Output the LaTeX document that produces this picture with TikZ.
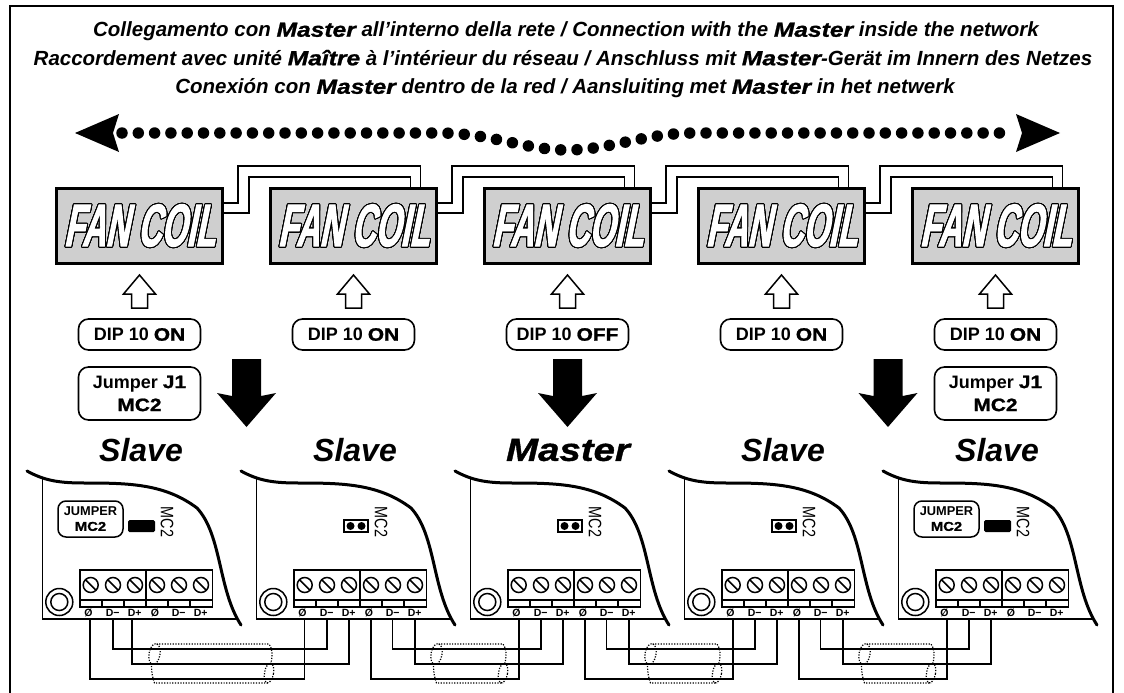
\documentclass[tikz,border=0pt]{standalone}
\usepackage{fontspec}
\usepackage{contour}
\setmainfont{Liberation Sans}
\newfontfamily\fanfont[FakeStretch=0.54,FakeSlant=0.2,FakeBold=1.6]{Liberation Sans Bold}
\newfontfamily\widefont[FakeStretch=1.16,FakeBold=1.2]{Liberation Sans Bold}
\newfontfamily\wideslant[FakeStretch=1.2,FakeBold=1.2]{Liberation Sans Bold Italic}
\newfontfamily\silkfont[FakeStretch=0.8]{Liberation Sans}
\usetikzlibrary{calc,positioning}
\contourlength{1pt}
\contournumber{32}
\tikzset{
  fancoil/.style={draw, line width=3.5pt, fill=gray!38, minimum width=166pt, minimum height=75pt, inner sep=0pt},
  tagbox/.style={draw, line width=1.6pt, rounded corners=10pt, fill=white, minimum width=122pt, align=center, font=\bfseries\fontsize{18}{23}\selectfont, inner sep=0pt},
  role/.style={font=\bfseries\itshape\fontsize{32}{32}\selectfont},
  titleline/.style={font=\bfseries\itshape\fontsize{20.5}{24}\selectfont, text height=16pt, text depth=4.5pt},
  wire/.style={line width=1.9pt},
  edgeline/.style={line width=1.5pt},
  buswire/.style={line width=1.4pt},
  cable/.style={line width=1.2pt, dash pattern=on 1.2pt off 1.5pt},
  openarrow/.style={draw, line width=1.5pt, fill=white},
  pinlabel/.style={font=\bfseries\fontsize{10.5}{11}\selectfont, inner sep=0pt}
}
\newcommand{\heavy}[1]{{\normalfont\wideslant #1}}
\newcommand{\heavyup}[1]{{\normalfont\widefont #1}}
\begin{document}
\begin{tikzpicture}[x=1pt,y=-1pt]
  \useasboundingbox (0,0) rectangle (1124,693);
  % Frame
  \draw[line width=2pt] (10,6) rectangle (1113,710);

  % Title
  \node[titleline] (title1) at (566,31) {Collegamento con \heavy{Master} all’interno della rete / Connection with the \heavy{Master} inside the network};
  \node[titleline] (title2) at (563,59.5) {Raccordement avec unité \heavy{Maître} à l’intérieur du réseau / Anschluss mit \heavy{Master}-Gerät im Innern des Netzes};
  \node[titleline] (title3) at (565,88) {Conexión con \heavy{Master} dentro de la red / Aansluiting met \heavy{Master} in het netwerk};

  % Network arrow
  \fill (75,133) -- (119,114) -- (113,133) -- (119,152) -- cycle;
  \fill (1060,133) -- (1016,114) -- (1022,133) -- (1016,152) -- cycle;
  \draw[line width=11.5pt, line cap=round, dash pattern=on 0pt off 16.3pt]
    (122,133) -- (440,133) .. controls (490,133) and (525,150) .. (567,150) .. controls (610,150) and (645,133) .. (695,133) -- (1012,133);

  % Fan coil row
  \foreach \i/\tag in {1/ON,2/ON,3/OFF,4/ON,5/ON} {
    \pgfmathsetmacro{\cx}{139.5+214*(\i-1)}
    \node[fancoil] (fc\i) at (\cx,226) {\fanfont\fontsize{60}{60}\selectfont\contour{black}{\textcolor{white}{FAN COIL}}};
    \draw[openarrow] (\cx,275) -- (\cx+16,294) -- (\cx+8,294) -- (\cx+8,308) -- (\cx-8,308) -- (\cx-8,294) -- (\cx-16,294) -- cycle;
    \node[tagbox, minimum height=31pt] (dip\i) at (\cx,334.5) {DIP 10 \heavyup{\tag}};
  }

  % Links between fan coils
  \foreach \i/\j in {1/2,2/3,3/4,4/5} {
    \draw[wire] ($(fc\i.east)+(0,-23)$) -- ++(14,0) |- ($(fc\j.north)+(67,-21)$) -- ($(fc\j.north)+(67,0)$);
    \draw[wire] ($(fc\i.east)+(0,-13)$) -- ++(25,0) |- ($(fc\j.north)+(57,-10)$) -- ($(fc\j.north)+(57,0)$);
  }

  % Jumper notes
  \node[tagbox, minimum height=53pt] (jump1) at (139.5,393.5) {Jumper \heavyup{J1}\\\heavyup{MC2}};
  \node[tagbox, minimum height=53pt] (jump5) at (995.5,393.5) {Jumper \heavyup{J1}\\\heavyup{MC2}};

  % Down arrows
  \foreach \x in {246.5,567.5,888} {
    \fill (\x-14.5,359) -- (\x+14.5,359) -- (\x+14.5,396) -- (\x+29.5,393) -- (\x,427) -- (\x-29.5,393) -- (\x-14.5,396) -- cycle;
  }

  % Boards
  \foreach \i in {1,...,5} {
    \begin{scope}[xshift={214*(\i-1)}]
      \draw[edgeline] (42.7,479) -- (42.7,619) -- (237,619);
      \draw[line width=3pt, line cap=round] (27,471) .. controls (45,481) and (60,483) .. (85,483)
        .. controls (130,483) and (165,484) .. (197,508)
        .. controls (222,535) and (218,590) .. (241,625);
      % terminal block
      \draw[edgeline] (80,570) rectangle (212.7,607);
      \draw[edgeline] (146,570) -- (146,607);
      \draw[line width=1.2pt] (80,600) -- (212.7,600);
      \foreach \x in {90.7,113,135,157,179,201} {
        \draw[edgeline] (\x,585) circle (7.5pt);
        \draw[edgeline] (\x-5,580) -- (\x+5,590);
      }
      \foreach \x in {102,124,168,190}
        \draw[line width=1.2pt] (\x,600) -- (\x,607);
      \foreach \x/\lab in {88.5/Ø,112.7/D−,134.7/D+,155/Ø,178.7/D−,200.7/D+}
        \node[pinlabel] at (\x,613) {\lab};
      % mounting hole
      \draw[edgeline] (59.3,602) circle (13.5pt);
      \draw[edgeline] (59.3,602) circle (8.5pt);
      \node[font=\silkfont\fontsize{18}{18}\selectfont, rotate=-90, inner sep=0pt] at (167,522) {MC2};
    \end{scope}
  }
  \node[role] (role1) at (141,450) {Slave};
  \node[role] (role2) at (355,450) {Slave};
  \node[font=\wideslant\fontsize{32}{32}\selectfont] (role3) at (568,450) {Master};
  \node[role] (role4) at (783,450) {Slave};
  \node[role] (role5) at (997,450) {Slave};

  % Jumpers
  \foreach \x in {0,856} {
    \node[draw, line width=1.5pt, rounded corners=8pt, minimum width=65pt, minimum height=36pt, inner sep=0pt, align=center, font=\bfseries\fontsize{12.8}{15}\selectfont] at (90.5+\x,519) {JUMPER\\\heavyup{MC2}};
    \fill[rounded corners=1.5pt] (128+\x,520) rectangle (155+\x,532);
  }
  \foreach \x in {214,428,642} {
    \draw[wire] (130+\x,520) rectangle (154+\x,532);
    \fill (136.5+\x,526) circle (4pt);
    \fill (147.5+\x,526) circle (4pt);
  }

  % Bus wiring
  \draw[buswire] (90,619) |- (304.7,679) -- (304.7,619);
  \draw[buswire] (113,619) |- (327,649) -- (327,619);
  \draw[buswire] (132,619) |- (349,664) -- (349,619);
  \foreach \i in {0,214,428} {
    \draw[buswire] (371+\i,619) |- (519+\i,679) -- (519+\i,619);
    \draw[buswire] (392.7+\i,619) |- (541+\i,649) -- (541+\i,619);
    \draw[buswire] (415+\i,619) |- (563+\i,664) -- (563+\i,619);
  }

  % Shielded cables
  \foreach \xa/\xb in {154.5/269,436.5/503,650.5/717,864.5/931} {
    \draw[cable, rotate around={-10:(\xa,654)}] (\xa,654) ellipse (5.5pt and 10.5pt);
    \draw[cable, rotate around={-10:(\xb,673)}] (\xb,673) ellipse (4.5pt and 10pt);
    \draw[cable] (\xa+2,644) -- (\xb,644) .. controls (\xb+3,648) and (\xb+4,654) .. (\xb+2,663);
    \draw[cable] (\xa-3,666) .. controls (\xa-3,672) and (\xa-2,678) .. (\xa,683) -- (\xb,683);
  }
\end{tikzpicture}
\end{document}
